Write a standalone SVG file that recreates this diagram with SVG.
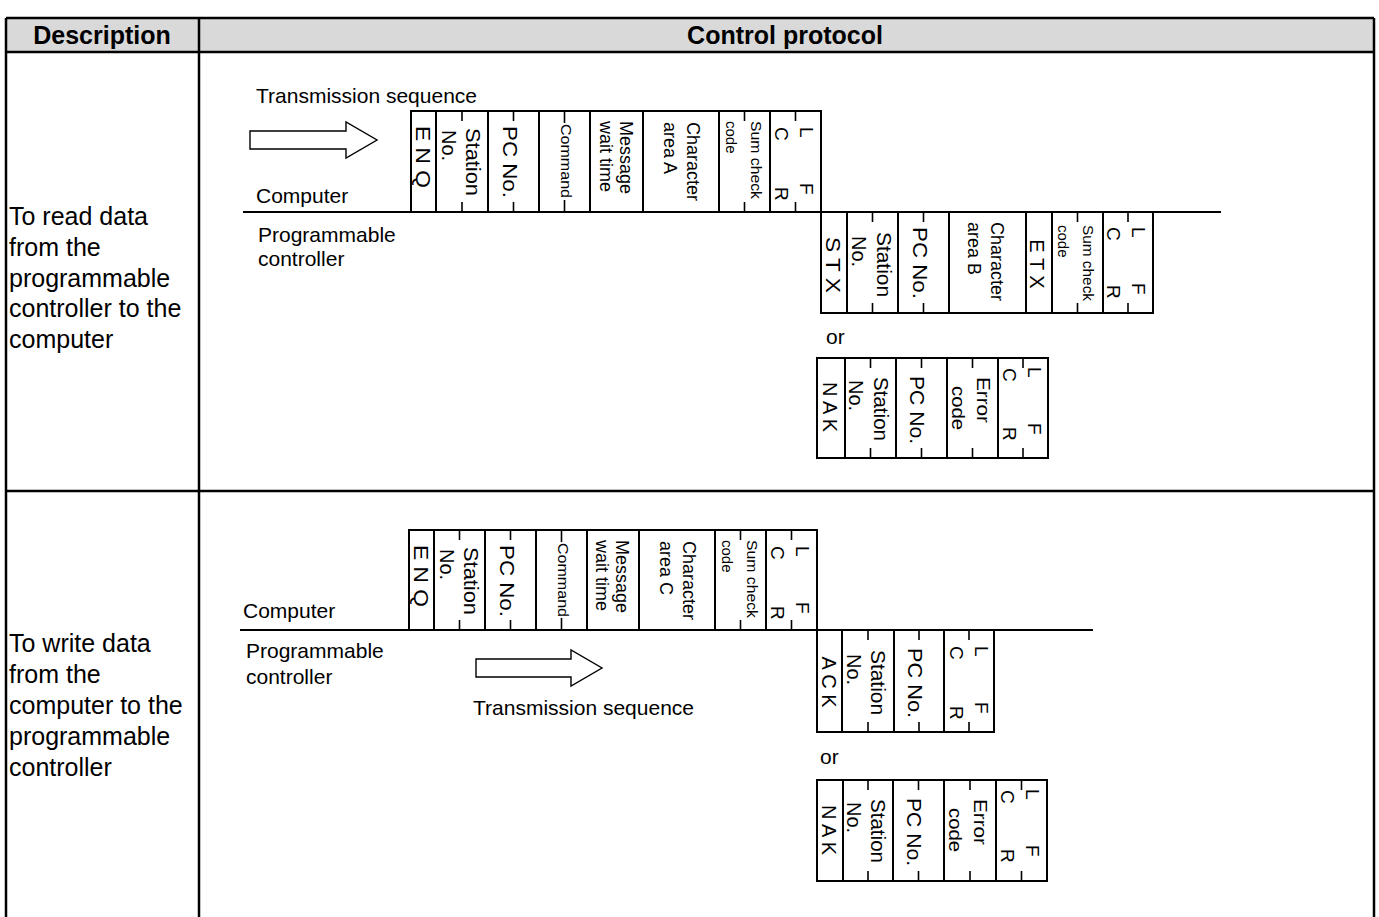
<svg xmlns="http://www.w3.org/2000/svg" width="1379" height="917" viewBox="0 0 1379 917">
<style>
text{font-family:"Liberation Sans",Arial,sans-serif;fill:#000}
.hd{font-size:25px;font-weight:bold;text-anchor:middle}
.lc{font-size:25px}
.lb{font-size:21px}
.bx{fill:#fff;stroke:#000;stroke-width:2}
.tl{stroke:#000;stroke-width:2.5;fill:none}
.tk{stroke:#000;stroke-width:1.6}
.ln{stroke:#000;stroke-width:2;fill:none}
.ar{fill:#fff;stroke:#000;stroke-width:1.4}
.v{dominant-baseline:central}
.m{text-anchor:middle}
.f20{font-size:20px}.f18{font-size:18px}.f14{font-size:14px}.f15{font-size:15px}.f19{font-size:19px}
</style>
<g id="table">
<rect x="6" y="18" width="1368" height="34" fill="#d9d9d9"/>
<path class="tl" d="M6,18H1374M6,52H1374M6,491H1374M6,18V917M199,18V917M1374,18V917"/>
<text class="hd" x="102" y="44">Description</text>
<text class="hd" x="785" y="44">Control protocol</text>
</g>
<g id="desc-read" class="lc">
<text x="9" y="225">To read data</text>
<text x="9" y="256">from the</text>
<text x="9" y="287">programmable</text>
<text x="9" y="317">controller to the</text>
<text x="9" y="348">computer</text>
</g>
<g id="desc-write" class="lc">
<text x="9" y="652">To write data</text>
<text x="9" y="683">from the</text>
<text x="9" y="714">computer to the</text>
<text x="9" y="745">programmable</text>
<text x="9" y="776">controller</text>
</g>
<g id="labels" class="lb">
<text x="256" y="103">Transmission sequence</text>
<text x="256" y="203">Computer</text>
<text x="258" y="242">Programmable</text>
<text x="258" y="266">controller</text>
<text x="826" y="344">or</text>
<text x="243" y="618">Computer</text>
<text x="246" y="658">Programmable</text>
<text x="246" y="684">controller</text>
<text x="473" y="715">Transmission sequence</text>
<text x="820" y="764">or</text>
</g>
<g id="connectors">
<path class="ln" d="M243,212H1221"/>
<path class="ln" d="M240,630H1093"/>
<polygon class="ar" points="250,131 346,131 346,122 377,140 346,158 346,149 250,149"/>
<polygon class="ar" points="476,659 571,659 571,650 602,668 571,686 571,677 476,677"/>
</g>

<!-- Row 1 request frame T=111 B=212 -->
<g id="r1-enq"><rect class="bx" x="411" y="111" width="25" height="101"/>
<text class="v m f20" transform="translate(423,157) rotate(90)" textLength="62" lengthAdjust="spacingAndGlyphs">E N Q</text></g>
<g id="r1-station"><rect class="bx" x="436" y="111" width="52" height="101"/>
<path class="tk" d="M462,111v10M462,202v10"/>
<text class="v f20" transform="translate(473,128) rotate(90)" textLength="68" lengthAdjust="spacingAndGlyphs">Station</text>
<text class="v f20" transform="translate(449,130) rotate(90)">No.</text></g>
<g id="r1-pcno"><rect class="bx" x="488" y="111" width="51" height="101"/>
<path class="tk" d="M513.5,111v10M513.5,202v10"/>
<text class="v m f20" transform="translate(510,162) rotate(90)" textLength="72" lengthAdjust="spacingAndGlyphs">PC No.</text></g>
<g id="r1-command"><rect class="bx" x="539" y="111" width="51" height="101"/>
<path class="tk" d="M564.5,111v12M564.5,200v12"/>
<text class="v m f14" transform="translate(566,161) rotate(90)" textLength="74" lengthAdjust="spacingAndGlyphs">Command</text></g>
<g id="r1-message"><rect class="bx" x="590" y="111" width="53" height="101"/>
<text class="v f18" transform="translate(626,121) rotate(90)">Message</text>
<text class="v f18" transform="translate(606,121) rotate(90)">wait time</text></g>
<g id="r1-chara"><rect class="bx" x="643" y="111" width="76" height="101"/>
<text class="v f18" transform="translate(693,122) rotate(90)">Character</text>
<text class="v f18" transform="translate(670,122) rotate(90)">area A</text></g>
<g id="r1-sum"><rect class="bx" x="719" y="111" width="51" height="101"/>
<path class="tk" d="M744.5,111v10M744.5,202v10"/>
<text class="v f15" transform="translate(756,121) rotate(90)" textLength="78" lengthAdjust="spacingAndGlyphs">Sum check</text>
<text class="v f15" transform="translate(731,121) rotate(90)">code</text></g>
<g id="r1-lfcr"><rect class="bx" x="770" y="111" width="51" height="101"/>
<path class="tk" d="M795.5,111v10M795.5,202v10"/>
<text class="v f19" transform="translate(806,127) rotate(90)">L</text>
<text class="v f19" transform="translate(806,183) rotate(90)">F</text>
<text class="v f19" transform="translate(781,127) rotate(90)">C</text>
<text class="v f19" transform="translate(781,187) rotate(90)">R</text></g>

<!-- Row 1 response frame T=212 B=313 -->
<g id="r1-stx"><rect class="bx" x="821" y="212" width="26" height="101"/>
<text class="v m f20" transform="translate(833,265) rotate(90)" textLength="56" lengthAdjust="spacingAndGlyphs">S T X</text></g>
<g id="r1-station2"><rect class="bx" x="847" y="212" width="51" height="101"/>
<path class="tk" d="M872.5,212v10M872.5,303v10"/>
<text class="v f20" transform="translate(884,232) rotate(90)" textLength="65" lengthAdjust="spacingAndGlyphs">Station</text>
<text class="v f20" transform="translate(859,236) rotate(90)">No.</text></g>
<g id="r1-pcno2"><rect class="bx" x="898" y="212" width="51" height="101"/>
<path class="tk" d="M923.5,212v10M923.5,303v10"/>
<text class="v m f20" transform="translate(920,263) rotate(90)" textLength="72" lengthAdjust="spacingAndGlyphs">PC No.</text></g>
<g id="r1-charb"><rect class="bx" x="949" y="212" width="77" height="101"/>
<text class="v f18" transform="translate(997,222) rotate(90)">Character</text>
<text class="v f18" transform="translate(974,222) rotate(90)">area B</text></g>
<g id="r1-etx"><rect class="bx" x="1026" y="212" width="26" height="101"/>
<text class="v m f20" transform="translate(1037,264) rotate(90)">E T X</text></g>
<g id="r1-sum2"><rect class="bx" x="1052" y="212" width="51" height="101"/>
<path class="tk" d="M1077.5,212v10M1077.5,303v10"/>
<text class="v f15" transform="translate(1088,225) rotate(90)" textLength="76" lengthAdjust="spacingAndGlyphs">Sum check</text>
<text class="v f15" transform="translate(1063,225) rotate(90)">code</text></g>
<g id="r1-lfcr2"><rect class="bx" x="1103" y="212" width="50" height="101"/>
<path class="tk" d="M1128,212v10M1128,303v10"/>
<text class="v f19" transform="translate(1138,227) rotate(90)">L</text>
<text class="v f19" transform="translate(1138,283) rotate(90)">F</text>
<text class="v f19" transform="translate(1113,227) rotate(90)">C</text>
<text class="v f19" transform="translate(1113,285) rotate(90)">R</text></g>

<!-- Row 1 NAK frame T=358 B=458 -->
<g id="r1-nak"><rect class="bx" x="817" y="358" width="28" height="100"/>
<text class="v m f20" transform="translate(830,407) rotate(90)">N A K</text></g>
<g id="r1-station3"><rect class="bx" x="845" y="358" width="51" height="100"/>
<path class="tk" d="M870.5,358v10M870.5,448v10"/>
<text class="v f20" transform="translate(881,377) rotate(90)" textLength="64" lengthAdjust="spacingAndGlyphs">Station</text>
<text class="v f20" transform="translate(856,380) rotate(90)">No.</text></g>
<g id="r1-pcno3"><rect class="bx" x="896" y="358" width="51" height="100"/>
<path class="tk" d="M921.5,358v10M921.5,448v10"/>
<text class="v m f20" transform="translate(917,410) rotate(90)" textLength="68" lengthAdjust="spacingAndGlyphs">PC No.</text></g>
<g id="r1-error"><rect class="bx" x="947" y="358" width="51" height="100"/>
<path class="tk" d="M972.5,358v10M972.5,448v10"/>
<text class="v f18" transform="translate(983,377) rotate(90)" textLength="46" lengthAdjust="spacingAndGlyphs">Error</text>
<text class="v f18" transform="translate(958,386) rotate(90)" textLength="44" lengthAdjust="spacingAndGlyphs">code</text></g>
<g id="r1-lfcr3"><rect class="bx" x="998" y="358" width="50" height="100"/>
<path class="tk" d="M1023,358v10M1023,448v10"/>
<text class="v f19" transform="translate(1034,367) rotate(90)">L</text>
<text class="v f19" transform="translate(1034,423) rotate(90)">F</text>
<text class="v f19" transform="translate(1009,368) rotate(90)">C</text>
<text class="v f19" transform="translate(1009,427) rotate(90)">R</text></g>

<!-- Row 2 request frame T=530 B=630 -->
<g id="r2-enq"><rect class="bx" x="409" y="530" width="25" height="100"/>
<text class="v m f20" transform="translate(421,576) rotate(90)" textLength="62" lengthAdjust="spacingAndGlyphs">E N Q</text></g>
<g id="r2-station"><rect class="bx" x="434" y="530" width="51" height="100"/>
<path class="tk" d="M459.5,530v10M459.5,620v10"/>
<text class="v f20" transform="translate(471,547) rotate(90)" textLength="68" lengthAdjust="spacingAndGlyphs">Station</text>
<text class="v f20" transform="translate(447,549) rotate(90)">No.</text></g>
<g id="r2-pcno"><rect class="bx" x="485" y="530" width="51" height="100"/>
<path class="tk" d="M510.5,530v10M510.5,620v10"/>
<text class="v m f20" transform="translate(507,581) rotate(90)" textLength="72" lengthAdjust="spacingAndGlyphs">PC No.</text></g>
<g id="r2-command"><rect class="bx" x="536" y="530" width="51" height="100"/>
<path class="tk" d="M561.5,530v12M561.5,618v12"/>
<text class="v m f14" transform="translate(563,580) rotate(90)" textLength="74" lengthAdjust="spacingAndGlyphs">Command</text></g>
<g id="r2-message"><rect class="bx" x="587" y="530" width="52" height="100"/>
<text class="v f18" transform="translate(622,540) rotate(90)">Message</text>
<text class="v f18" transform="translate(602,540) rotate(90)">wait time</text></g>
<g id="r2-charc"><rect class="bx" x="639" y="530" width="76" height="100"/>
<text class="v f18" transform="translate(689,541) rotate(90)">Character</text>
<text class="v f18" transform="translate(666,541) rotate(90)">area C</text></g>
<g id="r2-sum"><rect class="bx" x="715" y="530" width="51" height="100"/>
<path class="tk" d="M740.5,530v10M740.5,620v10"/>
<text class="v f15" transform="translate(752,540) rotate(90)" textLength="78" lengthAdjust="spacingAndGlyphs">Sum check</text>
<text class="v f15" transform="translate(727,540) rotate(90)">code</text></g>
<g id="r2-lfcr"><rect class="bx" x="766" y="530" width="51" height="100"/>
<path class="tk" d="M791.5,530v10M791.5,620v10"/>
<text class="v f19" transform="translate(802,546) rotate(90)">L</text>
<text class="v f19" transform="translate(802,602) rotate(90)">F</text>
<text class="v f19" transform="translate(777,546) rotate(90)">C</text>
<text class="v f19" transform="translate(777,606) rotate(90)">R</text></g>

<!-- Row 2 ACK frame T=630 B=732 -->
<g id="r2-ack"><rect class="bx" x="817" y="630" width="25" height="102"/>
<text class="v m f20" transform="translate(829,682) rotate(90)">A C K</text></g>
<g id="r2-station2"><rect class="bx" x="842" y="630" width="52" height="102"/>
<path class="tk" d="M868,630v10M868,722v10"/>
<text class="v f20" transform="translate(878,650) rotate(90)" textLength="65" lengthAdjust="spacingAndGlyphs">Station</text>
<text class="v f20" transform="translate(854,654) rotate(90)">No.</text></g>
<g id="r2-pcno2"><rect class="bx" x="894" y="630" width="50" height="102"/>
<path class="tk" d="M919,630v10M919,722v10"/>
<text class="v m f20" transform="translate(915,683) rotate(90)" textLength="70" lengthAdjust="spacingAndGlyphs">PC No.</text></g>
<g id="r2-lfcr2"><rect class="bx" x="944" y="630" width="50" height="102"/>
<path class="tk" d="M969,630v10M969,722v10"/>
<text class="v f19" transform="translate(981,646) rotate(90)">L</text>
<text class="v f19" transform="translate(981,702) rotate(90)">F</text>
<text class="v f19" transform="translate(956,646) rotate(90)">C</text>
<text class="v f19" transform="translate(956,706) rotate(90)">R</text></g>

<!-- Row 2 NAK frame T=780 B=881 -->
<g id="r2-nak"><rect class="bx" x="817" y="780" width="26" height="101"/>
<text class="v m f20" transform="translate(829,830) rotate(90)">N A K</text></g>
<g id="r2-station3"><rect class="bx" x="843" y="780" width="50" height="101"/>
<path class="tk" d="M868,780v10M868,871v10"/>
<text class="v f20" transform="translate(878,799) rotate(90)" textLength="64" lengthAdjust="spacingAndGlyphs">Station</text>
<text class="v f20" transform="translate(854,802) rotate(90)">No.</text></g>
<g id="r2-pcno3"><rect class="bx" x="893" y="780" width="51" height="101"/>
<path class="tk" d="M918.5,780v10M918.5,871v10"/>
<text class="v m f20" transform="translate(914,832) rotate(90)" textLength="68" lengthAdjust="spacingAndGlyphs">PC No.</text></g>
<g id="r2-error"><rect class="bx" x="944" y="780" width="52" height="101"/>
<path class="tk" d="M970,780v10M970,871v10"/>
<text class="v f18" transform="translate(980,799) rotate(90)" textLength="46" lengthAdjust="spacingAndGlyphs">Error</text>
<text class="v f18" transform="translate(955,808) rotate(90)" textLength="44" lengthAdjust="spacingAndGlyphs">code</text></g>
<g id="r2-lfcr3"><rect class="bx" x="996" y="780" width="51" height="101"/>
<path class="tk" d="M1021.5,780v10M1021.5,871v10"/>
<text class="v f19" transform="translate(1032,789) rotate(90)">L</text>
<text class="v f19" transform="translate(1032,845) rotate(90)">F</text>
<text class="v f19" transform="translate(1007,790) rotate(90)">C</text>
<text class="v f19" transform="translate(1007,849) rotate(90)">R</text></g>
</svg>
